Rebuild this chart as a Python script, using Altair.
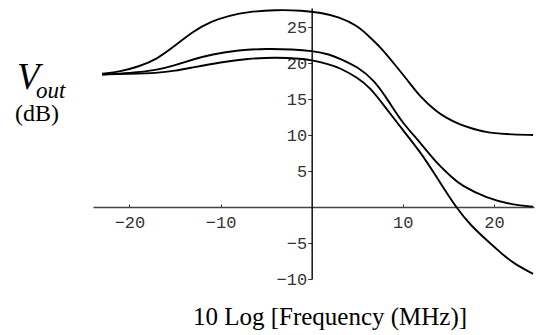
import altair as alt
import pandas as pd

# ---- data ----
x_a = [-23, -21, -19, -17, -15, -13, -11, -9, -7, -4, -1, 1, 3, 5, 6.2, 7.5, 9.5, 10.4, 12.1, 13.7, 14.6, 16.3, 17.6, 19, 21.2, 24.3]
y_a = [18.5, 18.8, 19.5, 20.5, 22.4, 24.4, 25.8, 26.6, 27.1, 27.4, 27.3, 27.0, 26.4, 25.2, 23.8, 22.3, 19.2, 17.8, 15.0, 13.3, 12.5, 11.4, 10.9, 10.4, 10.1, 10.0]

x_b = [-23, -20, -17, -15, -13, -11, -8, -5, -2, 0, 2, 3.1, 5, 6.9, 8.5, 10.0, 11.9, 13.7, 15.5, 16.3, 19.2, 22.1, 24.3]
y_b = [18.4, 18.6, 19.0, 19.7, 20.5, 21.2, 21.8, 22.0, 21.9, 21.7, 21.2, 20.6, 19.5, 17.6, 14.6, 11.6, 9.0, 6.1, 4.0, 3.1, 1.2, 0.3, 0.05]

x_c = [-23, -20, -17, -15, -13, -10, -7, -4, -1, 0, 2, 3.1, 5, 6.4, 8, 10.0, 11.9, 13.7, 15.9, 17.5, 19.2, 20.7, 22.1, 24.3]
y_c = [18.4, 18.5, 18.6, 18.9, 19.4, 20.1, 20.6, 20.8, 20.6, 20.4, 19.8, 19.3, 18.0, 16.6, 14.0, 10.7, 7.7, 4.2, -0.2, -2.6, -4.6, -6.3, -7.8, -9.3]

x_ticks = [-20, -10, 10, 20]
y_ticks = [-10, -5, 5, 10, 15, 20, 25]

x_title = "10 Log [Frequency (MHz)]"
y_title_main = "V"
y_title_sub = "out"
y_title_unit = "(dB)"

rows = []
for name, xs, ys in [("a", x_a, y_a), ("b", x_b, y_b), ("c", x_c, y_c)]:
    for i, (xv, yv) in enumerate(zip(xs, ys)):
        rows.append({"series": name, "x": xv, "y": yv, "order": i})
df = pd.DataFrame(rows)

# ---- layout ----
W, H = 441, 271
XMIN, XMAX = -24, 24.4
YMIN, YMAX = -10, 27.64
x0_px = W * (0 - XMIN) / (XMAX - XMIN)
y0_px = H * (YMAX - 0) / (YMAX - YMIN)

xscale = alt.Scale(domain=[XMIN, XMAX], nice=False, zero=False)
yscale = alt.Scale(domain=[YMIN, YMAX], nice=False, zero=False)

tick_font = "Liberation Mono"

lines = alt.Chart(df).mark_line(
    color="black", strokeWidth=1.9, interpolate="basis"
).encode(
    x=alt.X("x:Q", scale=xscale, axis=alt.Axis(
        orient="top", offset=-y0_px, values=x_ticks, title=None, grid=False,
        domainColor="#444", domainWidth=1.3, tickColor="#333", tickWidth=1,
        tickSize=3, labelPadding=-10, labelBaseline="top", labelAngle=0,
        labelFont=tick_font, labelFontSize=17, labelColor="#333",
        labelOverlap=False, labelFlush=False)),
    y=alt.Y("y:Q", scale=yscale, axis=alt.Axis(
        orient="left", offset=-x0_px, values=y_ticks, title=None, grid=False,
        domainColor="black", domainWidth=1.4, tickColor="#333", tickWidth=1,
        tickSize=4, labelPadding=1, labelBaseline="middle",
        labelFont=tick_font, labelFontSize=17, labelColor="#333",
        labelOverlap=False, labelFlush=False)),
    detail="series:N",
    order="order:Q",
)

def label(txt, px, py, size, style="normal", align="left"):
    return alt.Chart(pd.DataFrame({"t": [txt]})).mark_text(
        font="Liberation Serif", fontSize=size, fontStyle=style,
        align=align, baseline="alphabetic", color="black"
    ).encode(text="t:N", x=alt.value(px), y=alt.value(py))

t_v = label(y_title_main, -76, 81, 37, "italic")
t_out = label(y_title_sub, -57, 90, 23, "italic")
t_db = label(y_title_unit, -78, 113, 24)
t_x = label(x_title, 237, 317, 25, align="center")

chart = alt.layer(lines, t_v, t_out, t_db, t_x).properties(
    width=W, height=H,
    autosize=alt.AutoSizeParams(type="none"),
    padding={"left": 85, "top": 0, "right": 2, "bottom": 70},
).configure_view(stroke=None)

chart.save("out.html", embed_options={"renderer": "svg", "actions": False})
